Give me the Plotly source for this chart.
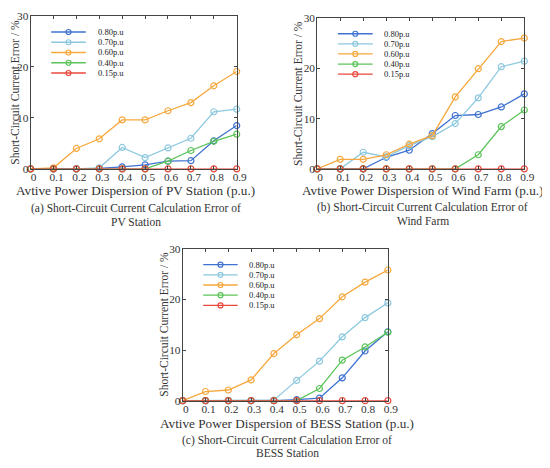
import plotly.graph_objects as go

x_vals = [0, 0.1, 0.2, 0.3, 0.4, 0.5, 0.6, 0.7, 0.8, 0.9]
x_ticktext = ["0", "0.1", "0.2", "0.3", "0.4", "0.5", "0.6", "0.7", "0.8", "0.9"]
y_ticks = [0, 10, 20, 30]
series_names = ["0.80p.u", "0.70p.u", "0.60p.u", "0.40p.u", "0.15p.u"]
series_colors = ["#3f72d0", "#8cc8df", "#f6a83e", "#5cc45a", "#e8493c"]

# (a) PV station
pv_080 = [0, 0, 0, 0.1, 0.4, 0.8, 1.5, 1.6, 5.5, 8.5]
pv_070 = [0, 0, 0, 0.2, 4.2, 2.2, 4.1, 6.0, 11.2, 11.7]
pv_060 = [0, 0.2, 4.0, 5.9, 9.6, 9.6, 11.4, 13.0, 16.3, 19.1]
pv_040 = [0, 0, 0, 0, 0, 0, 1.5, 3.6, 5.4, 6.8]
pv_015 = [0, 0, 0, 0, 0, 0, 0, 0, 0, 0]

# (b) Wind farm
wf_080 = [0, 0, 0, 2.3, 3.7, 7.0, 10.6, 10.8, 12.3, 14.9]
wf_070 = [0, 0, 3.3, 2.4, 4.6, 6.4, 9.0, 14.1, 20.3, 21.4]
wf_060 = [0, 1.9, 1.9, 2.8, 4.9, 6.6, 14.3, 19.9, 25.3, 26.0]
wf_040 = [0, 0, 0, 0, 0, 0, 0, 2.8, 8.4, 11.7]
wf_015 = [0, 0, 0, 0, 0, 0, 0, 0, 0, 0]

# (c) BESS station
bs_080 = [0, 0, 0, 0, 0, 0.2, 0.5, 4.5, 9.8, 13.6]
bs_070 = [0, 0, 0, 0, 0.1, 4.0, 7.8, 12.6, 16.4, 19.3]
bs_060 = [0, 1.8, 2.1, 4.1, 9.3, 13.0, 16.2, 20.5, 23.4, 25.8]
bs_040 = [0, 0, 0, 0, 0, 0, 2.4, 8.0, 10.6, 13.5]
bs_015 = [0, 0, 0, 0, 0, 0, 0, 0, 0, 0]

x_titles = ["Avtive Power Dispersion of PV Station (p.u.)",
            "Avtive Power Dispersion of Wind Farm (p.u.)",
            "Avtive Power Dispersion of BESS Station (p.u.)"]
captions = [["(a) Short-Circuit Current Calculation Error of", "PV Station"],
            ["(b) Short-Circuit Current Calculation Error of", "Wind Farm"],
            ["(c) Short-Circuit Current Calculation Error of", "BESS Station"]]
y_title = "Short-Circuit Current Error / %"

panels = [
    [pv_080, pv_070, pv_060, pv_040, pv_015],
    [wf_080, wf_070, wf_060, wf_040, wf_015],
    [bs_080, bs_070, bs_060, bs_040, bs_015],
]

OFF = 8  # page (body) margin around the figure
W, H = 550 - OFF, 468 - OFF
# plot-area boxes in window pixels: left, right, top, bottom
boxes = [(31, 241, 10, 167), (323, 534, 12, 167), (186, 395, 249, 405)]
xtitle_y = [189, 189, 428]
cap_y = [(208, 222), (207, 221), (446, 458.5)]
ytitle_x = [15.5, 304, 167]


def px_x(p):
    return (p - OFF) / W


def px_y(p):
    return 1 - (p - OFF) / H


FONT = "Liberation Serif"
fig = go.Figure()
shapes = []
annotations = []

for i, (series, box) in enumerate(zip(panels, boxes)):
    l, r, t, b = box
    suffix = "" if i == 0 else str(i + 1)
    xa = "x" + suffix
    ya = "y" + suffix
    for name, col, vals in zip(series_names, series_colors, series):
        fig.add_trace(go.Scatter(
            x=x_vals, y=vals, mode="lines+markers", name=name,
            xaxis=xa, yaxis=ya, showlegend=False, cliponaxis=False,
            line=dict(color=col, width=1.3),
            marker=dict(symbol="circle-open", size=6, color=col, line=dict(width=1.2, color=col)),
        ))
    axis_common = dict(showgrid=False, zeroline=False, showline=True, linecolor="#444",
                       linewidth=1, mirror="ticks", ticks="inside", ticklen=3,
                       tickcolor="#444", tickfont=dict(family=FONT, size=11.3, color="#333"))
    fig.layout["xaxis" + suffix] = dict(
        domain=[px_x(l), px_x(r)], anchor=ya, range=[0, 0.9],
        tickvals=x_vals, ticktext=x_ticktext, ticklabelshift=3, ticklabelstandoff=-2,
        **axis_common)
    fig.layout["yaxis" + suffix] = dict(
        domain=[px_y(b), px_y(t)], anchor=xa, range=[0, 30],
        tickvals=y_ticks, ticklabelstandoff=-1, **axis_common)

    cx = px_x((l + r) / 2 + 2)
    annotations.append(dict(text=x_titles[i], xref="paper", yref="paper", x=cx,
                            y=px_y(xtitle_y[i]), showarrow=False, xanchor="center",
                            yanchor="middle", font=dict(family=FONT, size=13.2, color="#333")))
    for line_txt, py in zip(captions[i], cap_y[i]):
        annotations.append(dict(text=line_txt, xref="paper", yref="paper", x=cx,
                                y=px_y(py), showarrow=False, xanchor="center",
                                yanchor="middle", font=dict(family=FONT, size=11.5, color="#333")))
    annotations.append(dict(text=y_title, xref="paper", yref="paper", x=px_x(ytitle_x[i]),
                            y=px_y((t + b) / 2), textangle=-90, showarrow=False,
                            xanchor="center", yanchor="middle",
                            font=dict(family=FONT, size=11.5, color="#333")))
    # legend drawn inside the axes
    for k, (name, col) in enumerate(zip(series_names, series_colors)):
        yd = 0.895 - k * 0.067
        shapes.append(dict(type="line", xref=xa + " domain", yref=ya + " domain",
                           x0=0.10, x1=0.268, y0=yd, y1=yd, line=dict(color=col, width=1.3)))
        shapes.append(dict(type="circle", xref=xa + " domain", yref=ya + " domain",
                           xsizemode="pixel", ysizemode="pixel", xanchor=0.184, yanchor=yd,
                           x0=-2.5, x1=2.5, y0=-2.5, y1=2.5, line=dict(color=col, width=1.2)))
        annotations.append(dict(text=name, xref=xa + " domain", yref=ya + " domain",
                                x=0.315, y=yd, xanchor="left", yanchor="middle", showarrow=False,
                                font=dict(family=FONT, size=8.5, color="#222")))

fig.update_layout(width=W, height=H, margin=dict(l=0, r=0, t=0, b=0),
                  plot_bgcolor="white", paper_bgcolor="white",
                  shapes=shapes, annotations=annotations, showlegend=False)
fig.write_html("out.html")
